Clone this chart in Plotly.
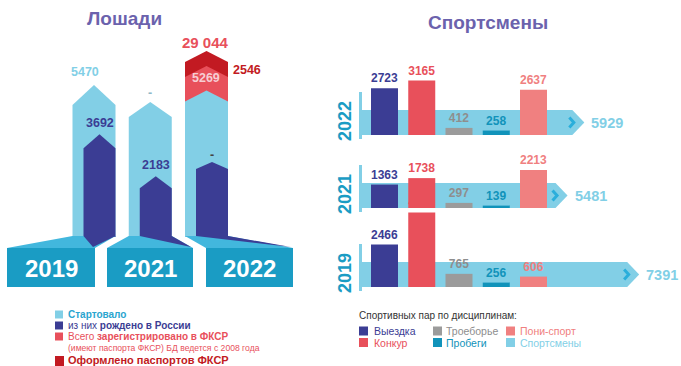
import plotly.graph_objects as go

W, H = 681, 366

# ---------- Лошади ----------
horse_years = ["2019", "2021", "2022"]
started = [5470, 4860, 5269]            # Стартовало (для 2021 подписи нет)
started_labels = ["5470", "-", "5269"]
born_in_russia = [3692, 2183, 2700]     # из них рождено в России (для 2022 подписи нет)
born_labels = ["3692", "2183", "-"]
registered_fksr = 29044                 # Всего зарегистрировано в ФКСР (2022)
passports_fksr = 2546                   # Оформлено паспортов ФКСР (2022)

# ---------- Спортсмены ----------
sport_years = ["2022", "2021", "2019"]
disciplines = ["Выездка", "Конкур", "Троеборье", "Пробеги", "Пони-спорт"]
pairs_2022 = [2723, 3165, 412, 258, 2637]
pairs_2021 = [1363, 1738, 297, 139, 2213]
pairs_2019 = [2466, 4333, 765, 256, 606]
athletes_total = [5929, 5481, 7391]

# ---------- styles ----------
LIGHT = "#82cfe6"
NAVY = "#3b3d94"
RED = "#e8505b"
DARK_RED = "#c21a22"
GREY = "#9b9b9b"
TEAL = "#1193ba"
PINK = "#f08080"
BOX = "#1a9cc4"
FAN = "#42b7dd"
CHEVRON = "#2aaedb"
TITLE = "#6b62ad"
FONT = "Liberation Sans, Arial, sans-serif"
disc_colors = [NAVY, RED, GREY, TEAL, PINK]
disc_label_colors = [NAVY, RED, "#8e8e8e", TEAL, PINK]


def px_x(px):
    return px / W


def px_y(py):
    return 1 - py / H


fig = go.Figure()
annotations = []
shapes = []


def note(px, py, text, size, color, xanchor="left", **kw):
    annotations.append(dict(
        xref="paper", yref="paper", x=px_x(px), y=px_y(py), text=text,
        showarrow=False, xanchor=xanchor, yanchor="middle", borderpad=0,
        font=dict(family=FONT, size=size, color=color), **kw))


# ================= left panel: horses =================
X_STEP, X0 = 56.25, 94.0      # px between year columns, px of the first column centre
FLOOR = 237.0                 # px where the columns stand on the base
K_BLUE = 0.0278               # px per horse (blue columns)
K_RED = 0.00589               # px per horse (registry columns)


def column(i, left_px, right_px, top, peak_px, k):
    xl = i + left_px / X_STEP
    xr = i + right_px / X_STEP
    xm = (xl + xr) / 2
    shoulder = top - peak_px / k
    return [xl, xl, xm, xr, xr, xl], [0, shoulder, top, shoulder, 0, 0]


def poly(xs, ys, color, xaxis, yaxis):
    fig.add_trace(go.Scatter(
        x=xs, y=ys, fill="toself", fillcolor=color, mode="lines",
        line=dict(width=0, color=color), hoverinfo="skip",
        xaxis=xaxis, yaxis=yaxis, showlegend=False))


i22 = horse_years.index("2022")
# registry stack of 2022 (behind the blue columns)
xs, ys = column(i22, -21.5, 21.5, registered_fksr + passports_fksr, 11, K_RED)
poly(xs, ys, DARK_RED, "x", "y")
xs, ys = column(i22, -21.5, 21.5, registered_fksr, 11, K_RED)
poly(xs, ys, RED, "x", "y")

light_peaks = [20, 15, 11]
navy_peaks = [14, 12, 7]
for i, v in enumerate(started):
    xs, ys = column(i, -21.5, 21.5, v, light_peaks[i], K_BLUE)
    poly(xs, ys, LIGHT, "x", "y3")
for i, v in enumerate(born_in_russia):
    xs, ys = column(i, -10.5, 21.5, v, navy_peaks[i], K_BLUE)
    poly(xs, ys, NAVY, "x", "y3")

# value labels on the columns
started_colors = [LIGHT, "#8fb8c8", "#f6cdd3"]
started_dx = [-9, 0, -1]
for i, (v, t) in enumerate(zip(started, started_labels)):
    annotations.append(dict(
        xref="x", yref="y3", x=i, y=v, text=f"<b>{t}</b>", showarrow=False,
        xshift=started_dx[i], yshift=13 if t != "-" else 9, yanchor="middle",
        font=dict(family=FONT, size=12.5, color=started_colors[i])))
for i, (v, t) in enumerate(zip(born_in_russia, born_labels)):
    annotations.append(dict(
        xref="x", yref="y3", x=i + 5.5 / X_STEP, y=v, text=f"<b>{t}</b>",
        showarrow=False, yshift=11 if t != "-" else 7, yanchor="middle",
        font=dict(family=FONT, size=12.5, color=NAVY if t != "-" else "#444")))
annotations.append(dict(
    xref="x", yref="y", x=i22 - 1.5 / X_STEP, y=registered_fksr + passports_fksr,
    text="<b>" + f"{registered_fksr:,}".replace(",", " ") + "</b>",
    showarrow=False, yshift=8, yanchor="middle",
    font=dict(family=FONT, size=15, color=RED)))
annotations.append(dict(
    xref="x", yref="y", x=i22 + 21.5 / X_STEP, y=registered_fksr,
    text=f"<b>{passports_fksr}</b>", showarrow=False, xanchor="left",
    xshift=3, yshift=-4, yanchor="middle",
    font=dict(family=FONT, size=12.5, color=DARK_RED)))

# base plates with the years
BOX_X = [(7, 95), (107, 193), (206, 293)]
BOX_TOP, BOX_BOTTOM = 248, 287


def path(points):
    return "M " + " L ".join(f"{px_x(a):.5f},{px_y(b):.5f}" for a, b in points) + " Z"


for i, year in enumerate(horse_years):
    c = X0 + i * X_STEP
    bl, br = BOX_X[i]
    shapes.append(dict(type="path", xref="paper", yref="paper", layer="above",
                       path=path([(c - 21.5, FLOOR - 1), (c + 21.5, FLOOR - 1),
                                  (br, BOX_TOP), (bl, BOX_TOP)]),
                       fillcolor=FAN, line=dict(width=0)))
    shapes.append(dict(type="path", xref="paper", yref="paper", layer="above",
                       path=path([(c - 10.5, FLOOR - 1), (c + 21.5, FLOOR - 1),
                                  (br - 2, BOX_TOP - 1)]),
                       fillcolor=NAVY, line=dict(width=0)))
    shapes.append(dict(type="rect", xref="paper", yref="paper", layer="above",
                       x0=px_x(bl), x1=px_x(br), y0=px_y(BOX_BOTTOM), y1=px_y(BOX_TOP),
                       fillcolor=BOX, line=dict(width=0)))
    note((bl + br) / 2, 268, f"<b>{year}</b>", 24, "white", xanchor="center")

note(124, 18, "<b>Лошади</b>", 19, TITLE, xanchor="center")

# legend of the horses panel
legend_left = [
    (314.5, LIGHT, "<b>Стартовало</b>", "#2aa5cf"),
    (325.5, NAVY, "из них <b>рождено в России</b>", NAVY),
    (336.5, RED, "Всего <b>зарегистрировано в ФКСР</b>", RED),
]
for y, sq, text, col in legend_left:
    shapes.append(dict(type="rect", xref="paper", yref="paper",
                       x0=px_x(55), x1=px_x(63), y0=px_y(y + 4), y1=px_y(y - 4),
                       fillcolor=sq, line=dict(width=0)))
    note(67, y, text, 10, col)
note(67, 348, "(имеют паспорта ФКСР) БД ведется с 2008 года", 8.6, RED)
shapes.append(dict(type="rect", xref="paper", yref="paper",
                   x0=px_x(55), x1=px_x(64), y0=px_y(366), y1=px_y(356),
                   fillcolor=DARK_RED, line=dict(width=0)))
note(67, 360, "<b>Оформлено паспортов ФКСР</b>", 11, DARK_RED)

# ================= right panel: athletes =================
BAND_ZERO, K_BAND = 362.0, 0.0375     # px of zero, px per athlete
BAR0, BAR_STEP, BAR_W = 384.5, 37.25, 27.0
K_PAIRS = 0.0172                      # px per pair
ROW_BASE = [135, 208, 287]            # px of each row's baseline
BAND_H = 25
rows = [pairs_2022, pairs_2021, pairs_2019]

for r, year in enumerate(sport_years):
    base = (H - ROW_BASE[r]) / K_PAIRS
    top = base + BAND_H / K_PAIRS
    mid = (base + top) / 2
    v = athletes_total[r]
    tip = 12 / K_BAND
    poly([0, v - tip, v, v - tip, 0, 0], [base, base, mid, top, top, base],
         LIGHT, "x2", "y2")
    fig.add_trace(go.Scatter(
        x=[v - 15 / K_BAND, v - 10.5 / K_BAND, v - 15 / K_BAND],
        y=[mid + 5 / K_PAIRS, mid, mid - 5 / K_PAIRS], mode="lines",
        line=dict(color=CHEVRON, width=3), hoverinfo="skip",
        xaxis="x2", yaxis="y2", showlegend=False))
    annotations.append(dict(
        xref="x2", yref="y2", x=v, y=mid, text=f"<b>{v}</b>", showarrow=False,
        xanchor="left", xshift=6, yanchor="middle", borderpad=0,
        font=dict(family=FONT, size=14.5, color=LIGHT)))

    vals = rows[r]
    fig.add_trace(go.Bar(
        x=list(range(len(disciplines))), y=vals, base=[base] * len(vals),
        width=BAR_W / BAR_STEP, marker=dict(color=disc_colors, line=dict(width=0)),
        text=[str(x) for x in vals], texttemplate="<b>%{text}</b>",
        textposition="outside", cliponaxis=False, constraintext="none",
        textfont=dict(family=FONT, size=12, color=disc_label_colors),
        hoverinfo="skip", xaxis="x3", yaxis="y2", showlegend=False))

    # year marker on the left of each row
    shapes.append(dict(type="line", xref="paper", yref="paper",
                       x0=px_x(360.5), x1=px_x(360.5),
                       y0=px_y(ROW_BASE[r] + 4), y1=px_y(ROW_BASE[r] - 43),
                       line=dict(color=LIGHT, width=3)))
    note(345, ROW_BASE[r] - 14, f"<b>{year}</b>", 18, "#1a9cc4",
         xanchor="center", textangle=-90)

note(488, 23, "<b>Спортсмены</b>", 19, TITLE, xanchor="center")

# legend of the athletes panel
note(358, 315, "Спортивных пар по дисциплинам:", 10, "#333333")
legend_right = [
    (359, 373, 331, NAVY, "Выездка", NAVY),
    (359, 373, 342.5, RED, "Конкур", RED),
    (433, 445, 331, GREY, "Троеборье", "#8e8e8e"),
    (433, 445, 342.5, TEAL, "Пробеги", TEAL),
    (506, 519, 331, PINK, "Пони-спорт", PINK),
    (506, 519, 342.5, LIGHT, "Спортсмены", LIGHT),
]
for sx, tx, y, sq, text, col in legend_right:
    shapes.append(dict(type="rect", xref="paper", yref="paper",
                       x0=px_x(sx), x1=px_x(sx + 9), y0=px_y(y + 4.5), y1=px_y(y - 4.5),
                       fillcolor=sq, line=dict(width=0)))
    note(tx, y, text, 10.5, col)

hidden = dict(visible=False, showgrid=False, zeroline=False, fixedrange=True)
fig.update_layout(
    width=W, height=H, margin=dict(l=0, r=0, t=0, b=0, pad=0),
    paper_bgcolor="white", plot_bgcolor="rgba(0,0,0,0)",
    barmode="overlay", showlegend=False,
    xaxis=dict(domain=[0, 300 / W], range=[(0 - X0) / X_STEP, (300 - X0) / X_STEP],
               anchor="y", **hidden),
    yaxis=dict(domain=[0, 1], range=[(FLOOR - H) / K_RED, FLOOR / K_RED],
               anchor="x", **hidden),
    yaxis3=dict(overlaying="y", range=[(FLOOR - H) / K_BLUE, FLOOR / K_BLUE],
                anchor="x", **hidden),
    xaxis2=dict(domain=[300 / W, 1],
                range=[(300 - BAND_ZERO) / K_BAND, (W - BAND_ZERO) / K_BAND],
                anchor="y2", **hidden),
    yaxis2=dict(domain=[0, 1], range=[0, H / K_PAIRS], anchor="x2", **hidden),
    xaxis3=dict(overlaying="x2",
                range=[(300 - BAR0) / BAR_STEP, (W - BAR0) / BAR_STEP],
                anchor="y2", **hidden),
    annotations=annotations, shapes=shapes,
)

fig.write_html("out.html")
